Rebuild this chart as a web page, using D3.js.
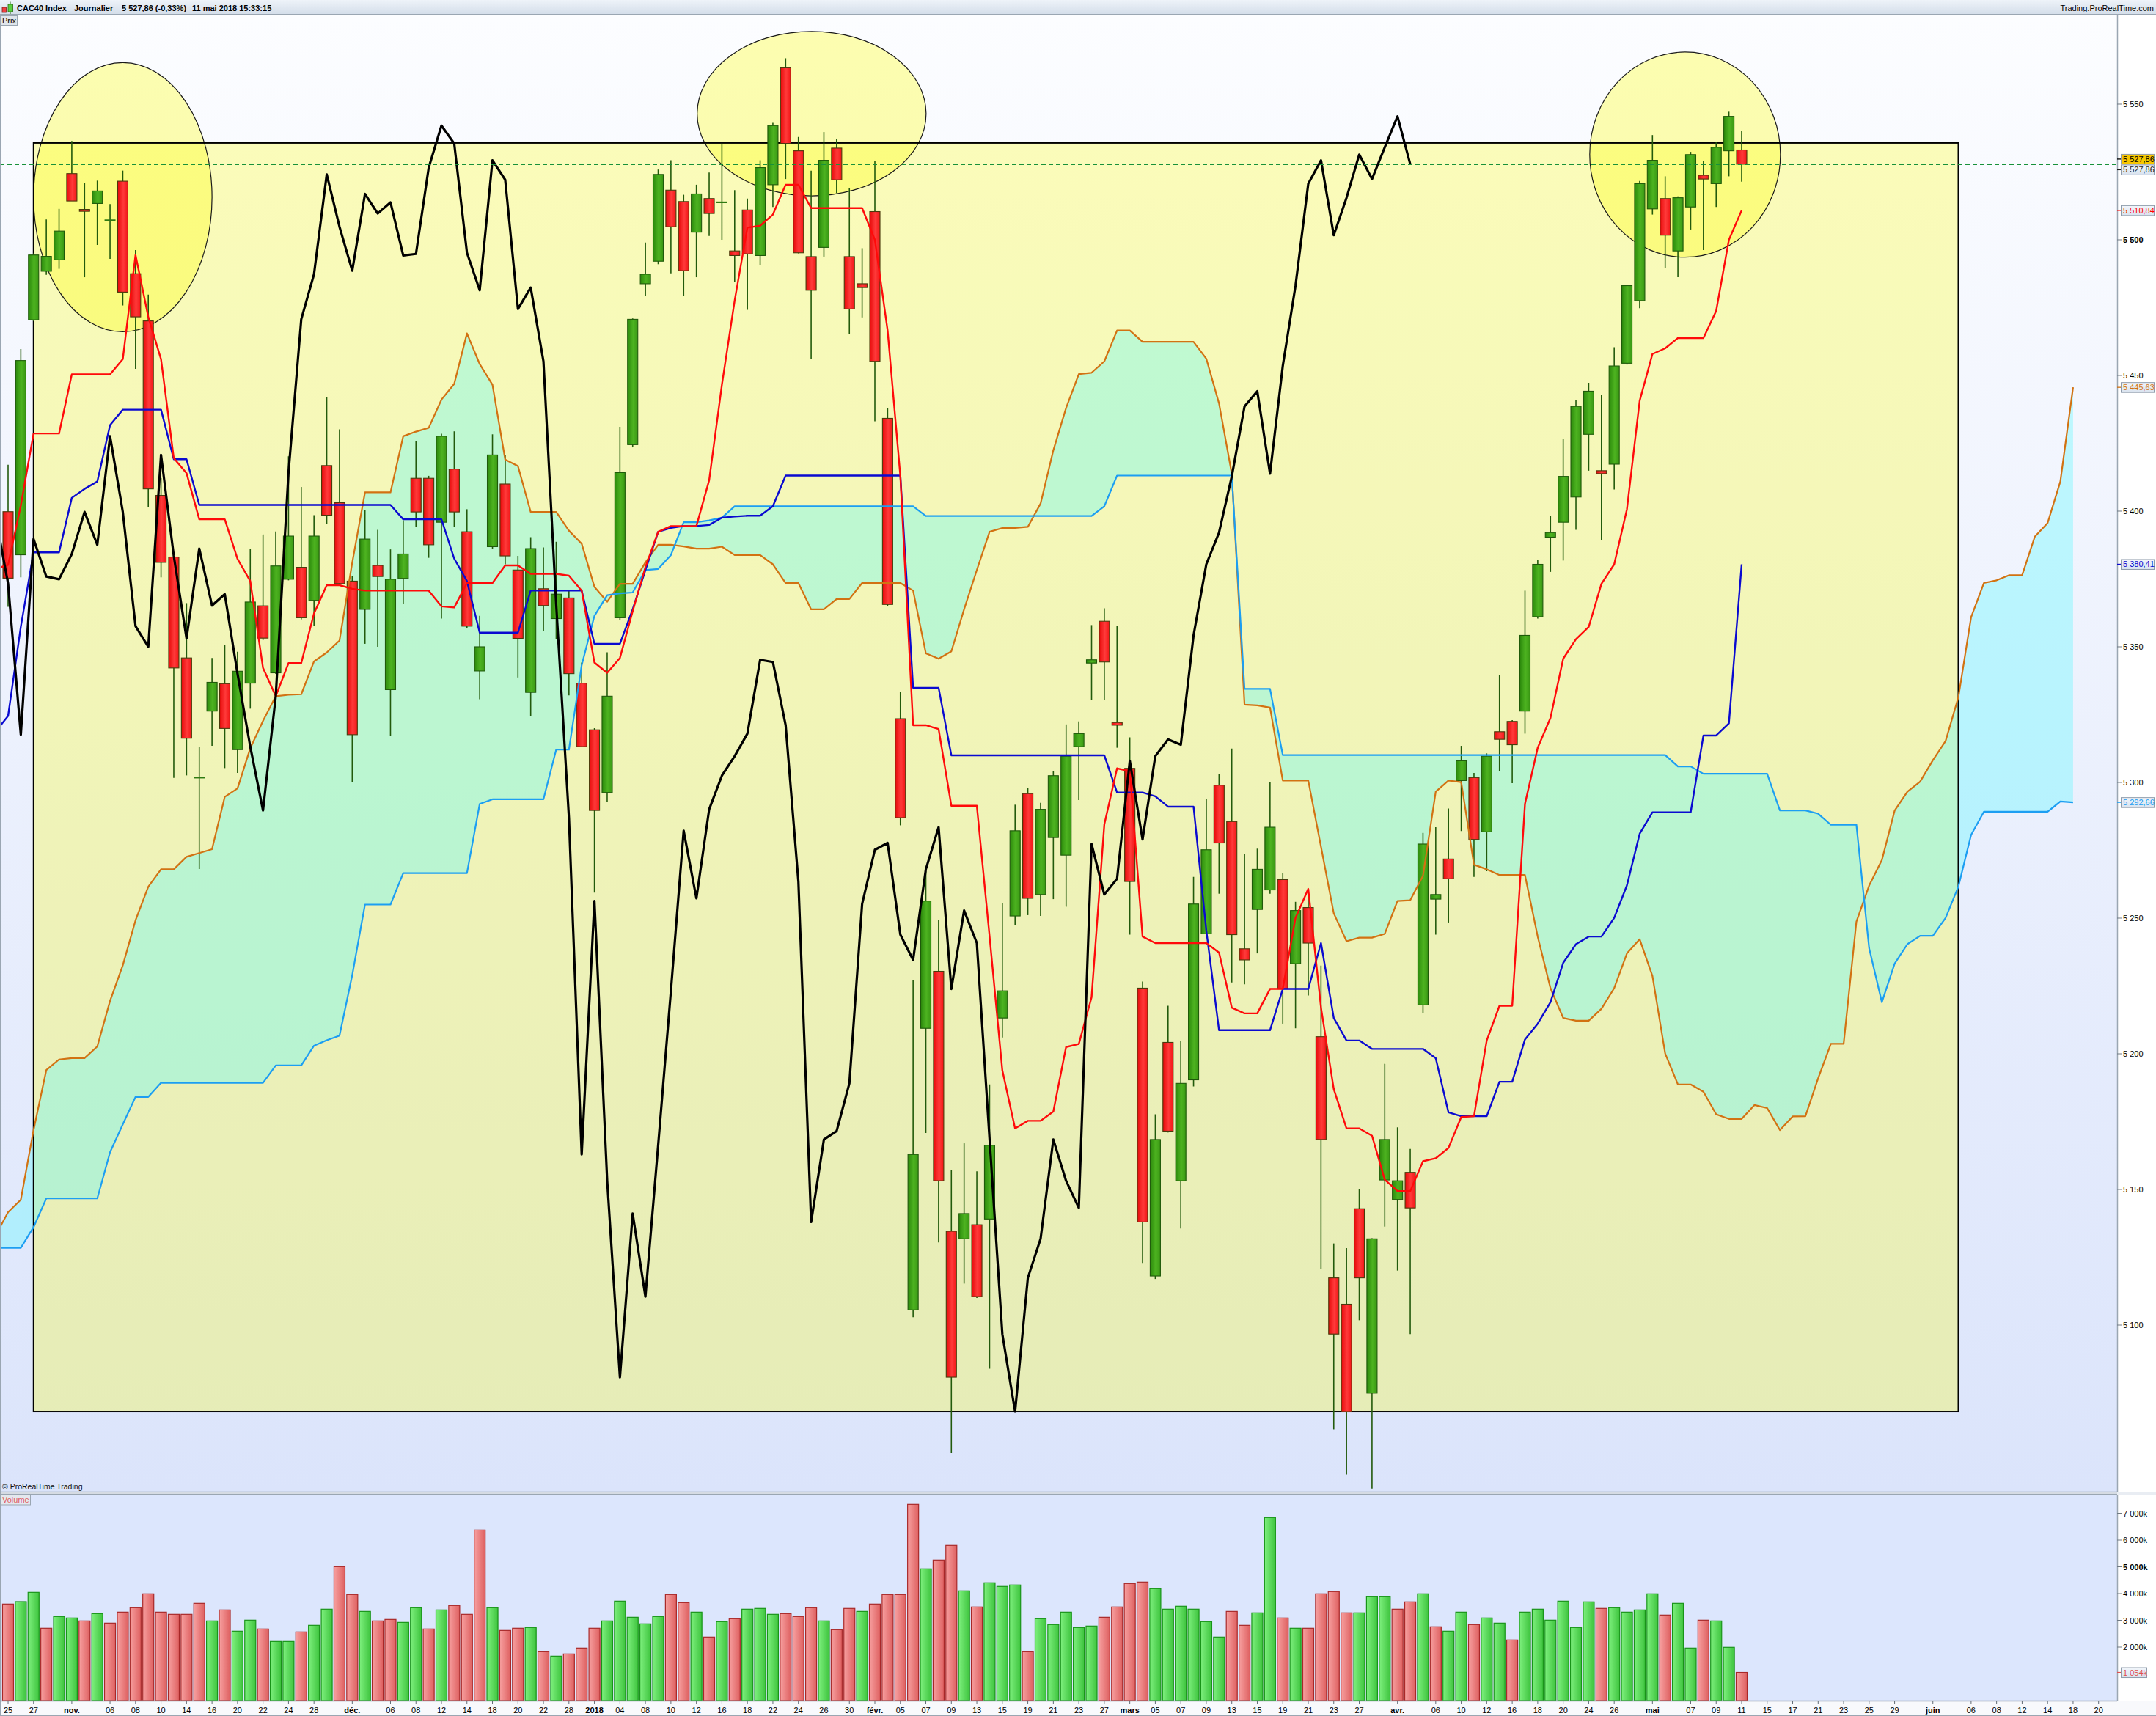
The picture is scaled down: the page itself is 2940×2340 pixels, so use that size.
<!DOCTYPE html>
<html><head><meta charset="utf-8">
<script src="https://cdn.jsdelivr.net/npm/d3@7"></script>
<style>html,body{margin:0;padding:0;background:#fff;}svg{display:block;font-family:"Liberation Sans",Arial,sans-serif;}</style>
</head><body><svg id="c" width="2940" height="2340"></svg>
<script>
// ---------------- DATA ----------------
const open = [5399.8,5383.9,5470.5,5488.4,5492.6,5524.4,5511.2,5513.4,5507.2,5521.6,
5487.5,5470.1,5405.8,5383.1,5345.9,5301.8,5326.3,5336.4,5312.1,5336.6,
5365.1,5340.4,5374.9,5379.3,5367.1,5416.8,5403.1,5374.2,5363.8,5380.0,
5334.2,5375.2,5412.1,5412.1,5395.9,5415.5,5392.4,5341.1,5386.9,5410.0,
5378.3,5333.2,5371.4,5360.4,5368.0,5336.6,5319.4,5296.3,5360.7,5424.5,
5483.8,5492.1,5518.3,5514.1,5502.8,5515.2,5513.8,5495.9,5511.0,5494.2,
5520.3,5563.4,5532.8,5493.8,5497.2,5533.8,5493.8,5483.8,5510.4,5434.2,
5323.5,5105.6,5209.4,5230.4,5134.6,5131.8,5137.0,5139.1,5213.2,5250.8,
5295.9,5258.7,5279.7,5273.2,5313.2,5344.0,5359.4,5322.1,5305.2,5224.2,
5118.1,5204.2,5153.2,5190.4,5244.2,5299.0,5285.6,5238.7,5253.2,5260.4,
5264.2,5233.2,5253.9,5206.3,5117.4,5107.7,5142.9,5074.9,5153.5,5146.3,
5156.3,5218.0,5257.0,5271.8,5300.7,5301.8,5281.8,5318.7,5322.5,5326.3,
5361.1,5390.4,5395.9,5405.2,5428.3,5414.9,5417.3,5454.5,5477.6,5511.4,
5515.2,5495.9,5512.1,5523.8,5520.7,5532.8,5533.1];
const high = [5417.1,5459.7,5495.0,5507.5,5511.4,5536.4,5520.9,5521.8,5513.2,5525.5,
5496.2,5479.8,5412.2,5383.5,5366.1,5313.0,5345.9,5350.6,5348.2,5386.2,
5391.4,5392.5,5420.2,5408.9,5398.5,5442.0,5430.1,5376.0,5400.4,5393.1,
5385.9,5396.6,5425.9,5413.0,5428.5,5429.4,5400.7,5361.4,5428.3,5420.7,
5383.5,5390.4,5386.6,5388.7,5370.7,5344.2,5320.0,5348.0,5431.1,5471.0,
5499.0,5525.9,5529.3,5516.6,5520.3,5524.8,5535.5,5518.3,5515.2,5529.3,
5543.1,5566.9,5537.9,5525.5,5539.7,5537.2,5519.0,5496.9,5529.0,5438.0,
5333.5,5227.0,5267.3,5249.4,5157.0,5167.0,5156.7,5188.7,5255.6,5291.8,
5298.0,5292.5,5304.2,5321.4,5322.5,5358.0,5364.2,5357.6,5316.6,5226.6,
5177.7,5217.7,5204.6,5265.2,5293.9,5303.2,5312.5,5273.5,5275.6,5300.1,
5266.6,5256.0,5258.7,5232.5,5130.1,5128.4,5150.1,5132.0,5196.3,5172.9,
5164.9,5281.4,5283.5,5290.4,5313.5,5303.5,5310.7,5339.7,5323.0,5370.7,
5382.1,5398.3,5426.6,5441.1,5447.3,5442.8,5460.4,5483.5,5521.7,5538.6,
5523.4,5516.0,5532.4,5529.0,5535.9,5547.2,5540.0];
const low = [5364.7,5375.6,5470.0,5487.1,5489.3,5514.3,5486.2,5498.1,5493.0,5475.8,
5452.4,5401.6,5375.6,5301.7,5302.6,5268.1,5313.5,5305.3,5303.5,5327.2,
5352.5,5340.0,5374.5,5360.1,5357.7,5395.4,5373.0,5300.1,5351.1,5350.0,
5317.3,5365.9,5394.2,5382.8,5360.4,5394.2,5357.0,5330.7,5386.0,5380.4,
5338.7,5324.5,5355.9,5352.8,5332.1,5313.0,5259.4,5292.8,5360.0,5423.5,
5479.3,5491.0,5487.6,5479.3,5486.2,5501.4,5500.0,5484.5,5474.2,5490.7,
5512.1,5522.4,5495.0,5456.2,5493.8,5517.2,5465.2,5471.4,5433.1,5365.0,
5284.2,5102.9,5170.8,5130.5,5052.9,5115.3,5110.0,5083.9,5206.0,5247.3,
5251.1,5250.8,5257.0,5254.2,5293.5,5330.4,5330.4,5312.8,5243.9,5122.9,
5117.0,5171.0,5135.6,5188.0,5244.0,5259.0,5226.3,5225.6,5237.0,5259.0,
5211.1,5209.4,5221.5,5120.8,5061.5,5045.0,5101.8,5039.8,5136.3,5120.1,
5096.7,5214.9,5243.9,5248.4,5282.1,5265.2,5267.3,5304.2,5299.7,5318.0,
5360.4,5377.6,5381.8,5393.1,5414.9,5389.3,5408.0,5454.0,5474.8,5509.3,
5489.7,5486.2,5503.8,5496.2,5512.1,5523.4,5521.4];
const close = [5375.3,5455.5,5494.4,5493.9,5503.2,5514.3,5510.5,5518.0,5507.2,5480.7,
5471.6,5408.2,5381.1,5342.2,5316.3,5301.8,5336.9,5319.9,5341.0,5366.5,
5353.2,5379.8,5390.8,5360.7,5390.8,5398.5,5373.3,5317.6,5389.7,5375.9,
5374.9,5384.2,5399.7,5387.6,5427.6,5399.7,5357.6,5350.0,5420.7,5383.5,
5353.1,5386.2,5365.2,5369.4,5340.1,5313.2,5289.7,5331.8,5414.2,5470.7,
5487.3,5524.1,5504.8,5488.6,5516.9,5509.7,5513.8,5494.2,5494.8,5526.6,
5542.1,5535.5,5495.2,5481.4,5529.3,5522.1,5474.5,5482.4,5455.2,5365.6,
5287.0,5162.9,5256.3,5153.2,5080.8,5141.1,5110.5,5166.3,5223.2,5282.2,
5257.3,5290.1,5302.5,5309.7,5318.0,5345.2,5344.4,5321.1,5263.5,5138.0,
5168.4,5171.5,5189.1,5255.2,5275.2,5277.7,5243.9,5234.6,5268.0,5283.5,
5223.9,5252.8,5240.8,5168.4,5096.7,5068.1,5117.4,5131.8,5168.4,5153.2,
5143.2,5277.3,5258.7,5264.5,5308.0,5279.0,5309.7,5315.9,5313.9,5354.2,
5380.4,5392.1,5412.8,5438.6,5444.2,5413.8,5453.5,5483.1,5520.7,5529.3,
5501.7,5515.5,5531.4,5522.4,5534.1,5545.5,5527.86];
const prevClose = 5398.0; // close of the session before the first visible one
// volume in thousands
const volume = [3608,3699,4046,2704,3142,3087,2977,3251,2895,3306,
3471,3991,3306,3224,3224,3635,2977,3388,2594,3005,
2676,2210,2210,2566,2813,3416,5005,3964,3333,2977,
3032,2922,3471,2676,3388,3553,3224,6374,3471,2621,
2704,2731,1826,1662,1744,1964,2704,2977,3717,3114,
2868,3142,3964,3662,3306,2375,2950,3060,3416,3444,
3224,3251,3142,3471,2977,2649,3444,3333,3608,3964,
3964,7334,4923,5252,5800,4101,3499,4403,4266,4321,
1826,3060,2841,3306,2731,2786,3114,3499,4375,4430,
4183,3416,3526,3416,2950,2375,3333,2813,3279,6841,
3087,2704,2704,3991,4074,3279,3279,3882,3882,3416,
3690,3991,2759,2594,3306,2841,3087,2895,2265,3306,
3416,3005,3717,2731,3690,3444,3471,3306,3388,3991,
3197,3635,1964,3005,2977,1992,1054];
// Ichimoku lines; first value belongs to the bar just before the first visible bar
const tenkan = [5378.7,
5380.2,5402.1,5428.6,5428.6,5428.6,5450.4,5450.4,5450.4,5450.4,5456.0,
5494.4,5471.6,5456.0,5419.5,5414.0,5397.0,5397.0,5397.0,5382.4,5374.2,
5342.2,5331.8,5344.0,5344.0,5362.3,5372.7,5372.7,5371.4,5370.7,5370.7,
5370.7,5370.7,5370.7,5370.7,5364.9,5364.5,5373.5,5373.5,5373.5,5380.0,
5380.0,5376.9,5376.9,5376.9,5376.2,5370.7,5344.2,5340.4,5345.9,5363.1,
5379.4,5392.4,5394.5,5394.5,5394.5,5411.4,5446.6,5477.6,5504.5,5505.2,
5509.3,5520.3,5520.3,5511.7,5511.7,5511.7,5511.7,5511.7,5500.0,5466.6,
5412.8,5321.1,5321.1,5319.7,5291.4,5291.4,5291.4,5243.2,5193.9,5172.5,
5175.3,5175.3,5178.7,5202.5,5203.6,5220.8,5284.5,5305.2,5304.2,5243.2,
5240.8,5240.8,5240.8,5240.8,5240.8,5237.3,5217.0,5214.9,5214.9,5223.9,
5223.9,5250.1,5260.8,5217.0,5187.0,5172.5,5172.5,5169.8,5153.6,5149.4,
5149.4,5160.4,5161.5,5165.3,5176.7,5177.0,5204.9,5217.7,5217.7,5292.1,
5312.8,5323.8,5345.6,5352.8,5357.3,5373.2,5380.4,5400.7,5440.7,5457.9,
5460.0,5463.8,5463.8,5463.8,5473.8,5500.0,5510.84];
const kijun = [5318.6,
5324.5,5357.4,5384.8,5384.8,5384.8,5404.9,5408.2,5410.9,5431.7,5437.4,
5437.4,5437.4,5437.4,5419.1,5419.1,5402.3,5402.3,5402.3,5402.3,5402.3,
5402.3,5402.3,5402.3,5402.3,5402.3,5402.3,5402.3,5402.3,5402.3,5402.3,
5402.3,5397.0,5397.0,5397.0,5397.0,5382.5,5374.2,5355.2,5355.2,5355.2,
5355.2,5370.7,5370.7,5370.7,5370.7,5370.7,5351.1,5351.1,5351.1,5363.8,
5378.3,5392.4,5393.8,5394.5,5394.5,5394.9,5397.6,5398.0,5398.3,5398.3,
5401.8,5413.1,5413.1,5413.1,5413.1,5413.1,5413.1,5413.1,5413.1,5413.1,
5413.1,5334.9,5334.9,5334.9,5310.0,5310.0,5310.0,5310.0,5310.0,5310.0,
5310.0,5310.0,5310.0,5310.0,5310.0,5310.0,5310.0,5296.3,5296.3,5296.3,
5294.9,5291.1,5291.1,5291.1,5245.5,5208.7,5208.7,5208.7,5208.7,5208.7,
5223.9,5223.9,5223.9,5240.8,5213.2,5204.9,5204.9,5201.8,5201.8,5201.8,
5201.8,5201.8,5198.4,5178.4,5177.0,5177.0,5177.0,5189.7,5189.7,5205.3,
5211.1,5219.0,5233.5,5240.4,5243.2,5243.2,5250.1,5262.1,5281.1,5289.0,
5289.0,5289.0,5289.0,5317.3,5317.3,5321.8,5380.41];
const senkouA = [5132.9,
5141.6,5146.2,5171.9,5194.0,5197.9,5198.4,5198.4,5202.7,5219.5,5232.6,
5249.2,5261.6,5268.0,5268.0,5272.6,5274.0,5275.4,5294.7,5297.8,5312.6,
5322.7,5331.8,5332.3,5332.5,5344.6,5347.9,5352.3,5381.0,5406.9,5406.9,
5406.9,5427.6,5429.3,5430.7,5441.1,5446.9,5465.5,5454.2,5446.6,5419.0,
5416.6,5399.7,5399.7,5399.7,5392.8,5388.0,5372.1,5366.6,5373.2,5373.2,
5381.1,5387.6,5387.6,5387.0,5386.2,5386.2,5386.9,5383.8,5383.8,5383.8,
5380.4,5373.5,5373.5,5363.8,5363.8,5367.6,5367.6,5373.5,5373.5,5373.5,
5373.5,5370.7,5347.6,5345.6,5348.3,5363.8,5378.3,5392.4,5393.8,5393.8,
5394.2,5402.8,5422.4,5438.0,5450.5,5451.0,5455.2,5466.6,5466.6,5462.4,
5462.4,5462.4,5462.4,5462.4,5456.2,5439.7,5413.8,5328.7,5328.4,5327.6,
5300.7,5300.7,5300.7,5276.3,5251.8,5241.5,5242.8,5242.8,5244.2,5256.3,
5256.6,5265.6,5296.6,5300.7,5300.1,5269.7,5268.0,5265.9,5265.9,5265.9,
5243.2,5224.2,5213.2,5212.2,5212.2,5216.6,5224.2,5237.0,5242.2,5228.7,
5200.1,5188.7,5188.7,5186.0,5177.7,5176.0,5176.0,5181.1,5180.0,5171.9,
5176.9,5177.0,5191.0,5203.7,5203.7,5248.7,5262.0,5271.4,5289.6,5296.6,
5300.3,5308.2,5315.3,5331.4,5360.9,5373.5,5374.5,5376.4,5376.4,5390.6,
5395.6,5410.9,5445.63];
const senkouB = [5128.5,
5128.5,5128.5,5136.1,5146.7,5146.7,5146.7,5146.7,5146.7,5163.7,5174.0,
5184.1,5184.1,5189.3,5189.3,5189.3,5189.3,5189.3,5189.3,5189.3,5189.3,
5189.3,5195.7,5195.7,5195.7,5203.0,5205.0,5206.7,5229.0,5255.0,5255.0,
5255.0,5266.6,5266.6,5266.6,5266.6,5266.6,5266.6,5292.1,5293.8,5293.8,
5293.8,5293.8,5293.8,5312.1,5312.1,5343.2,5361.4,5369.0,5369.7,5370.0,
5378.3,5378.7,5383.8,5395.9,5395.9,5396.6,5397.6,5401.8,5401.8,5401.8,
5401.8,5401.8,5401.8,5401.8,5401.8,5401.8,5401.8,5401.8,5401.8,5401.8,
5401.8,5401.8,5398.2,5398.2,5398.2,5398.2,5398.2,5398.2,5398.2,5398.2,
5398.2,5398.2,5398.2,5398.2,5398.2,5398.2,5401.8,5413.1,5413.1,5413.1,
5413.1,5413.1,5413.1,5413.1,5413.1,5413.1,5413.1,5334.5,5334.5,5334.5,
5310.1,5310.1,5310.1,5310.1,5310.1,5310.1,5310.1,5310.1,5310.1,5310.1,
5310.1,5310.1,5310.1,5310.1,5310.1,5310.1,5310.1,5310.1,5310.1,5310.1,
5310.1,5310.1,5310.1,5310.1,5310.1,5310.1,5310.1,5310.1,5310.1,5310.1,
5310.1,5305.9,5305.9,5303.2,5303.2,5303.2,5303.2,5303.2,5303.2,5289.7,
5289.7,5289.7,5288.5,5284.4,5284.4,5284.4,5238.9,5219.0,5233.2,5240.4,
5243.5,5243.5,5250.1,5261.6,5280.7,5289.2,5289.2,5289.2,5289.2,5289.2,
5289.2,5293.0,5292.66];
const chikouShift = 26;
const priceTicks = [5100,5150,5200,5250,5300,5350,5400,5450,5500,5550];
const volumeTicks = [2000,3000,4000,5000,6000,7000];
const xTickDates = ["2017-10-25","2017-10-27","2017-11-01","2017-11-06","2017-11-08","2017-11-10","2017-11-14","2017-11-16","2017-11-20","2017-11-22","2017-11-24","2017-11-28",
"2017-12-01","2017-12-06","2017-12-08","2017-12-12","2017-12-14","2017-12-18","2017-12-20","2017-12-22","2017-12-28",
"2018-01-02","2018-01-04","2018-01-08","2018-01-10","2018-01-12","2018-01-16","2018-01-18","2018-01-22","2018-01-24","2018-01-26","2018-01-30",
"2018-02-01","2018-02-05","2018-02-07","2018-02-09","2018-02-13","2018-02-15","2018-02-19","2018-02-21","2018-02-23","2018-02-27",
"2018-03-01","2018-03-05","2018-03-07","2018-03-09","2018-03-13","2018-03-15","2018-03-19","2018-03-21","2018-03-23","2018-03-27",
"2018-04-03","2018-04-06","2018-04-10","2018-04-12","2018-04-16","2018-04-18","2018-04-20","2018-04-24","2018-04-26",
"2018-05-02","2018-05-07","2018-05-09","2018-05-11","2018-05-15","2018-05-17","2018-05-21","2018-05-23","2018-05-25","2018-05-29",
"2018-06-01","2018-06-06","2018-06-08","2018-06-12","2018-06-14","2018-06-18","2018-06-20"];
const xTickLabels = ["25","27","nov.","06","08","10","14","16","20","22","24","28",
"déc.","06","08","12","14","18","20","22","28",
"2018","04","08","10","12","16","18","22","24","26","30",
"févr.","05","07","09","13","15","19","21","23","27",
"mars","05","07","09","13","15","19","21","23","27",
"avr.","06","10","12","16","18","20","24","26",
"mai","07","09","11","15","17","21","23","25","29",
"juin","06","08","12","14","18","20"];
const monthLabels = ["nov.","déc.","2018","févr.","mars","avr.","mai","juin"];
const holidays = ["2017-12-25","2017-12-26","2018-01-01","2018-03-30","2018-04-02","2018-05-01"];
// drawn annotations (data coordinates: bar index / price)
const boxAnnot = {from:"2017-10-27", to:"2018-06-05", top:5535.7, bottom:5068.1};
const ellipseBars   = [9.0, 63.04, 131.56];
const ellipseHalfW  = [7.0, 8.98, 7.48];
const ellipsePrice  = [5515.7, 5546.5, 5531.4];
const ellipseHalfH  = [49.6, 30.3, 37.8];

// ---------------- SCALES ----------------
const fmtD = d3.utcFormat("%Y-%m-%d");
const hol = new Set(holidays);
const days = d3.utcDays(new Date(Date.UTC(2017,9,25)), new Date(Date.UTC(2018,5,23)))
  .filter(d => d.getUTCDay()%6 !== 0 && !hol.has(fmtD(d))).map(fmtD);
const dayIndex = new Map(days.map((d,i)=>[d,i]));

const PR = 2887, PT = 20, PB = 2034, VT = 2038, VB = 2319;
const xs = d3.scaleLinear().domain([0,136]).range([11,2375]);
const ys = d3.scaleLinear().domain([5038.65,5582.97]).range([PB,PT]);
const yv = d3.scaleLinear().domain([0,7699]).range([VB,VT]);

const frNum = (v,dec) => { const [i,d] = v.toFixed(dec).split("."); const s = i.length>3 ? i.slice(0,-3)+" "+i.slice(-3) : i; return d ? s+","+d : s; };

const svg = d3.select("#c");
const defs = svg.append("defs");
function lg(id, stops, vertical, user){
  const g = defs.append("linearGradient").attr("id",id);
  if(vertical){ g.attr("x1",0).attr("y1",0).attr("x2",0).attr("y2",1); }
  else { g.attr("x1",0).attr("y1",0).attr("x2",1).attr("y2",0); }
  if(user){ g.attr("gradientUnits","userSpaceOnUse").attr("x1",0).attr("x2",0).attr("y1",user[0]).attr("y2",user[1]); }
  stops.forEach(s=>g.append("stop").attr("offset",s[0]).attr("stop-color",s[1]));
}
lg("bgP",[[0,"#fcfdff"],[1,"#dbe4fb"]],true,[PT,PB]);
lg("hdr",[[0,"#eef3f9"],[1,"#d3dde9"]],true);
lg("cg",[[0,"#2c8a0c"],[0.55,"#4db320"],[1,"#3a9814"]],false);
lg("cr",[[0,"#e60a0a"],[0.55,"#ff3a3a"],[1,"#f21616"]],false);
lg("vg",[[0,"#7ef07e"],[1,"#3ec43e"]],false);
lg("vr",[[0,"#f7a0a0"],[1,"#de6060"]],false);
lg("box",[[0,"#f2f6fb"],[1,"#d8e2ee"]],true);
defs.append("clipPath").attr("id","clipP").append("rect").attr("x",0).attr("y",PT).attr("width",PR).attr("height",PB-PT);
defs.append("clipPath").attr("id","clipV").append("rect").attr("x",0).attr("y",VT).attr("width",PR).attr("height",VB-VT);

// ---------------- FRAME ----------------
svg.append("rect").attr("width",2940).attr("height",2340).attr("fill","#ffffff");
svg.append("rect").attr("x",0).attr("y",0).attr("width",2940).attr("height",PT).attr("fill","url(#hdr)");
svg.append("line").attr("x1",0).attr("x2",2940).attr("y1",PT-0.5).attr("y2",PT-0.5).attr("stroke","#9aa6b2");
svg.append("rect").attr("x",0).attr("y",PT).attr("width",PR).attr("height",PB-PT).attr("fill","url(#bgP)");
svg.append("rect").attr("x",0).attr("y",PB).attr("width",2940).attr("height",VT-PB).attr("fill","#e9edf3");
svg.append("rect").attr("x",0).attr("y",VT).attr("width",PR).attr("height",VB-VT).attr("fill","#dce6fd");
svg.append("rect").attr("x",0).attr("y",VB).attr("width",2940).attr("height",2340-VB).attr("fill","#f8f9fc");

// ---------------- PRICE PANEL ----------------
const gp = svg.append("g").attr("clip-path","url(#clipP)");
const bx0 = xs(dayIndex.get(boxAnnot.from)), bx1 = xs(dayIndex.get(boxAnnot.to));
const by0 = ys(boxAnnot.top), by1 = ys(boxAnnot.bottom);
gp.append("rect").attr("x",bx0).attr("y",by0).attr("width",bx1-bx0).attr("height",by1-by0).attr("fill","rgba(255,255,0,0.27)");

// cloud
const cIdx = d3.range(senkouA.length).map(k=>k-1);
gp.append("path").datum(cIdx)
  .attr("d", d3.area().x(i=>xs(i)).y0(i=>ys(senkouA[i+1])).y1(i=>ys(senkouB[i+1])))
  .attr("fill","rgba(90,250,255,0.35)");

// ellipses
ellipseBars.forEach((b,k)=>{
  const cx = xs(b), rx = xs(b+ellipseHalfW[k]) - xs(b);
  const cy = ys(ellipsePrice[k]), ry = ys(ellipsePrice[k]-ellipseHalfH[k]) - cy;
  gp.append("ellipse").attr("cx",cx).attr("cy",cy).attr("rx",rx).attr("ry",ry)
    .attr("fill","rgba(255,255,0,0.31)").attr("stroke","#1a1a1a").attr("stroke-width",1.2);
});
gp.append("rect").attr("x",bx0).attr("y",by0).attr("width",bx1-bx0).attr("height",by1-by0)
  .attr("fill","none").attr("stroke","#000").attr("stroke-width",2);

// candles
const wickC = "#225a0c";
const cg = gp.append("g");
close.forEach((c,i)=>{
  const x = xs(i), o = open[i];
  const up = c >= o;
  cg.append("line").attr("x1",x).attr("x2",x).attr("y1",ys(high[i])).attr("y2",ys(low[i]))
    .attr("stroke",wickC).attr("stroke-width",1.6);
  const yt = ys(Math.max(o,c)), yb = ys(Math.min(o,c));
  const h = Math.max(yb-yt, 1.6);
  if (yb-yt < 2.5) {
    cg.append("line").attr("x1",x-7.5).attr("x2",x+7.5).attr("y1",(yt+yb)/2).attr("y2",(yt+yb)/2)
      .attr("stroke", up ? "#2f7a12" : "#e81010").attr("stroke-width",Math.max(h,2.2));
  } else {
    cg.append("rect").attr("x",x-7).attr("y",yt).attr("width",14).attr("height",h)
      .attr("fill", up ? "url(#cg)" : "url(#cr)").attr("stroke", up ? "#1f5a0a" : "#4a3a0c").attr("stroke-width",1.1);
  }
});

// ichimoku lines
const lineGen = d3.line().x(d=>xs(d[0])).y(d=>ys(d[1])).curve(d3.curveLinear);
const ser = (arr) => arr.map((v,k)=>[k-1,v]);
function drawLine(pts,color,w){
  gp.append("path").datum(pts).attr("d",lineGen).attr("fill","none")
    .attr("stroke",color).attr("stroke-width",w).attr("stroke-linejoin","round");
}
drawLine(ser(senkouA),"#d27212",2.2);
drawLine(ser(senkouB),"#1c9ef2",2.2);
drawLine(ser(kijun),"#0a0ad0",2.4);
drawLine(ser(tenkan),"#ff0a0a",2.4);
drawLine(close.map((v,i)=>[i-chikouShift,v]),"#000000",3.2);

// current price dashed line
const lastC = close[close.length-1];
svg.append("line").attr("x1",0).attr("x2",PR).attr("y1",ys(lastC)).attr("y2",ys(lastC))
  .attr("stroke","#17913a").attr("stroke-width",2).attr("stroke-dasharray","6,4");

// ---------------- VOLUME PANEL ----------------
const gv = svg.append("g").attr("clip-path","url(#clipV)");
volume.forEach((v,i)=>{
  const pc = i===0 ? prevClose : close[i-1];
  const up = close[i] >= pc;
  gv.append("rect").attr("x",xs(i)-7.5).attr("y",yv(v)).attr("width",15).attr("height",VB-yv(v))
    .attr("fill", up ? "url(#vg)" : "url(#vr)").attr("stroke", up ? "#189418" : "#a82828").attr("stroke-width",1.2);
});

// ---------------- BORDERS ----------------
const gray = "#9aa6b2";
svg.append("line").attr("x1",0.5).attr("x2",0.5).attr("y1",PT).attr("y2",2339).attr("stroke",gray);
svg.append("line").attr("x1",PR+0.5).attr("x2",PR+0.5).attr("y1",PT).attr("y2",PB).attr("stroke",gray).attr("stroke-width",1.5);
svg.append("line").attr("x1",PR+0.5).attr("x2",PR+0.5).attr("y1",VT).attr("y2",VB).attr("stroke",gray).attr("stroke-width",1.5);
[PB+0.5, VT-0.5, VB+0.5, 2339.5].forEach(y=>svg.append("line").attr("x1",0).attr("x2",y===2339.5?2940:PR).attr("y1",y).attr("y2",y).attr("stroke",gray).attr("stroke-width",1.5));

// ---------------- AXES ----------------
const axP = svg.append("g").attr("font-size",11);
priceTicks.forEach(t=>{
  const y = ys(t);
  axP.append("line").attr("x1",PR).attr("x2",PR+6).attr("y1",y).attr("y2",y).attr("stroke","#707a84");
  axP.append("text").attr("x",PR+8).attr("y",y+4).text(frNum(t,0))
    .attr("font-weight", t%500===0 ? "bold":"normal").attr("fill","#000");
});
const axV = svg.append("g").attr("font-size",11);
volumeTicks.forEach(t=>{
  const y = yv(t);
  axV.append("line").attr("x1",PR).attr("x2",PR+6).attr("y1",y).attr("y2",y).attr("stroke","#707a84");
  axV.append("text").attr("x",PR+8).attr("y",y+4).text(frNum(t,0)+"k")
    .attr("font-weight", t%5000===0 ? "bold":"normal").attr("fill","#000");
});
const axX = svg.append("g").attr("font-size",11).attr("text-anchor","middle");
xTickDates.forEach((d,k)=>{
  const x = xs(dayIndex.get(d));
  axX.append("line").attr("x1",x).attr("x2",x).attr("y1",VB).attr("y2",VB+4).attr("stroke","#606a74");
  axX.append("text").attr("x",x).attr("y",2336).text(xTickLabels[k])
    .attr("font-weight", monthLabels.includes(xTickLabels[k]) ? "bold":"normal").attr("fill","#000");
});

// last value boxes
function valBox(y, txt, color, fill, tickColor){
  svg.append("line").attr("x1",PR).attr("x2",PR+6).attr("y1",y).attr("y2",y).attr("stroke",tickColor||color).attr("stroke-width",1.3);
  svg.append("rect").attr("x",PR+5.5).attr("y",y-6.5).attr("width",45).attr("height",13.5)
    .attr("fill",fill||"url(#box)").attr("stroke","#8f9cab").attr("stroke-width",1);
  svg.append("text").attr("x",PR+8).attr("y",y+4).attr("font-size",11).attr("fill",color).text(txt);
}
const yc = ys(lastC);
valBox(yc-7, frNum(lastC,2), "#000", "#f7c600", "#000");
valBox(yc+7.5, frNum(lastC,2), "#222");
valBox(ys(tenkan[tenkan.length-1]), frNum(tenkan[tenkan.length-1],2), "#ff0000");
valBox(ys(senkouA[senkouA.length-1]), frNum(senkouA[senkouA.length-1],2), "#d27212");
valBox(ys(kijun[kijun.length-1]), frNum(kijun[kijun.length-1],2), "#0a0ad0");
valBox(ys(senkouB[senkouB.length-1]), frNum(senkouB[senkouB.length-1],2), "#1c9ef2");
{
  const v = volume[volume.length-1], y = yv(v);
  svg.append("line").attr("x1",PR).attr("x2",PR+6).attr("y1",y).attr("y2",y).attr("stroke","#e05050").attr("stroke-width",1.3);
  svg.append("rect").attr("x",PR+5.5).attr("y",y-6.5).attr("width",35).attr("height",13.5).attr("fill","url(#box)").attr("stroke","#8f9cab");
  svg.append("text").attr("x",PR+8).attr("y",y+4).attr("font-size",11).attr("fill","#e05050").text(frNum(v,0)+"k");
}

// ---------------- HEADER & LABELS ----------------
const hd = svg.append("g");
hd.append("line").attr("x1",5.5).attr("x2",5.5).attr("y1",7).attr("y2",19).attr("stroke","#444");
hd.append("rect").attr("x",3).attr("y",10).attr("width",5.5).attr("height",7).attr("fill","#f04040").attr("stroke","#7a2020").attr("stroke-width",0.8);
hd.append("line").attr("x1",14).attr("x2",14).attr("y1",2.5).attr("y2",19).attr("stroke","#2a6a10");
hd.append("rect").attr("x",11).attr("y",6).attr("width",6.5).attr("height",10).attr("fill","#5ad040").attr("stroke","#2a6a10").attr("stroke-width",0.8);
const ht = hd.append("g").attr("font-size",11).attr("font-weight","bold").attr("fill","#000");
ht.append("text").attr("x",23).attr("y",15).text("CAC40 Index");
ht.append("text").attr("x",101).attr("y",15).text("Journalier");
ht.append("text").attr("x",166).attr("y",15).text("5 527,86 (-0,33%)");
ht.append("text").attr("x",262).attr("y",15).text("11 mai 2018 15:33:15");
hd.append("text").attr("x",2937).attr("y",15).attr("text-anchor","end").attr("font-size",11).attr("fill","#000").text("Trading.ProRealTime.com");
svg.append("rect").attr("x",0.5).attr("y",21.5).attr("width",23).attr("height",13).attr("fill","#dfe5ec").attr("stroke",gray);
svg.append("text").attr("x",3).attr("y",31.5).attr("font-size",11).attr("fill","#000").text("Prix");
svg.append("text").attr("x",3).attr("y",2031).attr("font-size",10.5).attr("fill","#111").text("© ProRealTime Trading");
svg.append("rect").attr("x",0.5).attr("y",VT+0.5).attr("width",41).attr("height",13.5).attr("fill","#e4e8ee").attr("stroke",gray);
svg.append("text").attr("x",3).attr("y",VT+11).attr("font-size",11).attr("fill","#e06060").text("Volume");
</script></body></html>
